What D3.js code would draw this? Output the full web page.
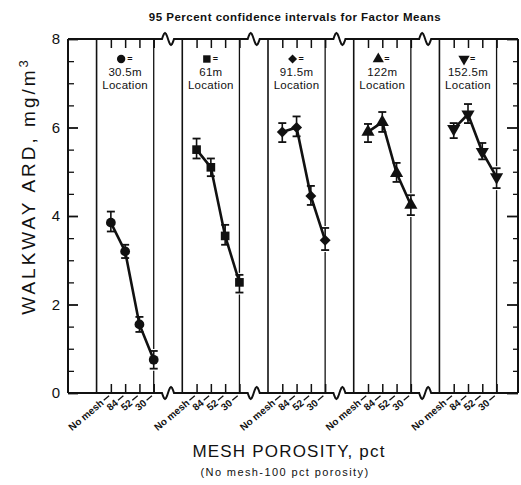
<!DOCTYPE html>
<html><head><meta charset="utf-8">
<script src="https://cdn.jsdelivr.net/npm/d3@7"></script>
<style>
html,body{margin:0;padding:0;background:#fff;}
svg{display:block;}
text{font-family:"Liberation Sans",Arial,sans-serif;fill:#111;}
</style></head>
<body>
<svg id="chart" width="521" height="485"></svg>
<script>
// ---- data ----
const categories = ["No mesh", "84", "52", "30"];
const locations = ["30.5m", "61m", "91.5m", "122m", "152.5m"];
const symbolNames = ["circle", "square", "diamond", "triangle", "triangleDown"];

const mean_30_5m = [3.85, 3.2, 1.55, 0.75];
const low_30_5m  = [3.65, 3.05, 1.38, 0.55];
const high_30_5m = [4.1, 3.35, 1.72, 0.95];

const mean_61m = [5.5, 5.1, 3.55, 2.5];
const low_61m  = [5.3, 4.9, 3.35, 2.27];
const high_61m = [5.75, 5.3, 3.8, 2.67];

const mean_91_5m = [5.9, 6.0, 4.45, 3.45];
const low_91_5m  = [5.67, 5.8, 4.25, 3.23];
const high_91_5m = [6.1, 6.25, 4.68, 3.73];

const mean_122m = [5.9, 6.12, 4.97, 4.25];
const low_122m  = [5.67, 5.9, 4.77, 4.02];
const high_122m = [6.08, 6.35, 5.2, 4.47];

const mean_152_5m = [5.97, 6.3, 5.45, 4.88];
const low_152_5m  = [5.76, 6.1, 5.28, 4.63];
const high_152_5m = [6.1, 6.53, 5.65, 5.08];

const yMajorTicks = [0, 2, 4, 6, 8];
const yMinorTicks = [0.5,1,1.5,2.5,3,3.5,4.5,5,5.5,6.5,7,7.5];

const titleText = "95 Percent confidence intervals for Factor Means";
const yTitle = "WALKWAY ARD, mg/m";
const xTitle = "MESH POROSITY, pct";
const xSubtitle = "(No mesh-100 pct porosity)";

const series = [
  {mean: mean_30_5m, low: low_30_5m, high: high_30_5m},
  {mean: mean_61m, low: low_61m, high: high_61m},
  {mean: mean_91_5m, low: low_91_5m, high: high_91_5m},
  {mean: mean_122m, low: low_122m, high: high_122m},
  {mean: mean_152_5m, low: low_152_5m, high: high_152_5m}
];

// ---- layout ----
const svg = d3.select("#chart");
const leftX = 68, rightX = 518, topY = 39, bottomY = 393;
const x = d3.scaleLinear().domain([-2, 29.5]).range([leftX, rightX]);
const y = d3.scaleLinear().domain([0, 8]).range([bottomY, topY]);
const panelStart = p => 6 * p;
const catPos = (p, i) => 6 * p + 1 + i;

const symbolMap = {
  circle: d3.symbolCircle, square: d3.symbolSquare, diamond: d3.symbolSquare,
  triangle: d3.symbolTriangle, triangleDown: d3.symbolTriangle
};
function symPath(name, size) {
  return d3.symbol().type(symbolMap[name]).size(size)();
}
function symRot(name) {
  if (name === "triangleDown") return " rotate(180)";
  if (name === "diamond") return " rotate(45)";
  return "";
}

// title
svg.append("text").attr("x", 295).attr("y", 21).attr("text-anchor", "middle")
  .style("font-size", "11.5px").style("font-weight", "bold").style("letter-spacing", "0.5px")
  .text(titleText);

// frame with break wiggles
function framePath(y0, dir) {
  const pts = [[leftX, y0]];
  for (let p = 0; p < 4; p++) {
    const xc = x(panelStart(p) + 5);
    pts.push([xc - 6, y0]);
    for (let k = 0; k <= 12; k++) {
      const t = k / 12;
      pts.push([xc - 6 + 12 * t, y0 - dir * 6 * Math.sin(2 * Math.PI * t)]);
    }
  }
  pts.push([rightX, y0]);
  return d3.line()(pts);
}
svg.append("path").attr("d", framePath(topY, 1)).attr("fill", "none").attr("stroke", "#111").attr("stroke-width", 2);
svg.append("path").attr("d", framePath(bottomY, -1)).attr("fill", "none").attr("stroke", "#111").attr("stroke-width", 2);
svg.append("line").attr("x1", leftX).attr("x2", leftX).attr("y1", topY).attr("y2", bottomY).attr("stroke", "#111").attr("stroke-width", 2);
svg.append("line").attr("x1", rightX).attr("x2", rightX).attr("y1", topY).attr("y2", bottomY).attr("stroke", "#111").attr("stroke-width", 2);

// left axis (ticks inward) with labels
const gL = svg.append("g").attr("transform", `translate(${leftX},0)`)
  .call(d3.axisLeft(y).tickValues(yMajorTicks).tickSize(-10).tickPadding(8).tickFormat(d3.format("d")));
gL.select(".domain").remove();
gL.selectAll("line").attr("stroke", "#111").attr("stroke-width", 1.8);
gL.selectAll("text").style("font-size", "15px").style("font-family", "Liberation Sans, Arial, sans-serif");
const gLm = svg.append("g").attr("transform", `translate(${leftX},0)`)
  .call(d3.axisLeft(y).tickValues(yMinorTicks).tickSize(-6).tickFormat(""));
gLm.select(".domain").remove();
gLm.selectAll("line").attr("stroke", "#111").attr("stroke-width", 1.3);

// right axis (ticks inward)
const gR = svg.append("g").attr("transform", `translate(${rightX},0)`)
  .call(d3.axisRight(y).tickValues(yMajorTicks).tickSize(-11).tickFormat(""));
gR.select(".domain").remove();
gR.selectAll("line").attr("stroke", "#111").attr("stroke-width", 1.8);
const gRm = svg.append("g").attr("transform", `translate(${rightX},0)`)
  .call(d3.axisRight(y).tickValues(yMinorTicks).tickSize(-5).tickFormat(""));
gRm.select(".domain").remove();
gRm.selectAll("line").attr("stroke", "#111").attr("stroke-width", 1.3);

// top and bottom category ticks
const tickPositions = [];
locations.forEach((loc, p) => categories.forEach((c, i) => tickPositions.push(catPos(p, i))));
const gT = svg.append("g").attr("transform", `translate(0,${topY})`)
  .call(d3.axisTop(x).tickValues(tickPositions).tickSize(-9).tickFormat(""));
gT.select(".domain").remove();
gT.selectAll("line").attr("stroke", "#111").attr("stroke-width", 1.5);
const gB = svg.append("g").attr("transform", `translate(0,${bottomY})`)
  .call(d3.axisBottom(x).tickValues(tickPositions).tickSize(-9).tickFormat(""));
gB.select(".domain").remove();
gB.selectAll("line").attr("stroke", "#111").attr("stroke-width", 1.5);

// category labels (rotated)
locations.forEach((loc, p) => {
  categories.forEach((c, i) => {
    const g = svg.append("g").attr("transform", `translate(${x(catPos(p, i)) - 1},${bottomY + 2}) rotate(-40)`);
    g.append("line").attr("x1", -8).attr("x2", -1).attr("y1", 0).attr("y2", 0).attr("stroke", "#111").attr("stroke-width", 1.3);
    g.append("text").attr("x", -10).attr("y", 0).attr("dy", "0.35em").attr("text-anchor", "end")
      .style("font-size", "10px").style("font-weight", "bold").text(c);
  });
});

// panels
series.forEach((s, p) => {
  const g = svg.append("g");
  g.append("line").attr("x1", x(panelStart(p))).attr("x2", x(panelStart(p)))
    .attr("y1", topY).attr("y2", bottomY).attr("stroke", "#111").attr("stroke-width", 1.6);
  const xl = x(catPos(p, 3));
  g.append("line").attr("x1", xl).attr("x2", xl).attr("y1", topY).attr("y2", y(s.high[3]) - 2)
    .attr("stroke", "#111").attr("stroke-width", 1.3);
  g.append("line").attr("x1", xl).attr("x2", xl).attr("y1", y(s.low[3]) + 2).attr("y2", bottomY)
    .attr("stroke", "#111").attr("stroke-width", 1.3);

  // legend
  const cx = x(panelStart(p) + 2);
  const lsz = symbolNames[p] === "diamond" ? 40 : 55;
  g.append("path").attr("d", symPath(symbolNames[p], lsz))
    .attr("transform", `translate(${cx - 4},59)${symRot(symbolNames[p])}`).attr("fill", "#111");
  g.append("text").attr("x", cx + 2).attr("y", 62).style("font-size", "9px").style("font-weight", "bold").text("=");
  g.append("text").attr("x", cx).attr("y", 75.5).attr("text-anchor", "middle")
    .style("font-size", "11.5px").style("letter-spacing", "0.3px").text(locations[p]);
  g.append("text").attr("x", cx).attr("y", 88.5).attr("text-anchor", "middle")
    .style("font-size", "11.5px").style("letter-spacing", "0.3px").text("Location");

  // error bars
  s.mean.forEach((m, i) => {
    const xi = x(catPos(p, i));
    g.append("line").attr("x1", xi).attr("x2", xi).attr("y1", y(s.low[i])).attr("y2", y(s.high[i]))
      .attr("stroke", "#111").attr("stroke-width", 1.6);
    [s.low[i], s.high[i]].forEach(v => {
      g.append("line").attr("x1", xi - 4).attr("x2", xi + 4).attr("y1", y(v)).attr("y2", y(v))
        .attr("stroke", "#111").attr("stroke-width", 1.8);
    });
  });
  g.append("path").datum(s.mean)
    .attr("d", d3.line().x((d, i) => x(catPos(p, i))).y(d => y(d)))
    .attr("fill", "none").attr("stroke", "#111").attr("stroke-width", 2.6);
  const msz = symbolNames[p] === "diamond" ? 60 : 75;
  s.mean.forEach((m, i) => {
    g.append("path").attr("d", symPath(symbolNames[p], msz))
      .attr("transform", `translate(${x(catPos(p, i))},${y(m)})${symRot(symbolNames[p])}`)
      .attr("fill", "#111");
  });
});

// y title
svg.append("text").attr("transform", "translate(35,186) rotate(-90)").attr("text-anchor", "middle")
  .style("font-size", "19px").style("letter-spacing", "3px")
  .call(t => {
    t.append("tspan").text(yTitle);
    t.append("tspan").attr("dy", "-0.55em").style("font-size", "13px").text("3");
  });

// x titles
svg.append("text").attr("x", 289).attr("y", 457).attr("text-anchor", "middle")
  .style("font-size", "17px").style("letter-spacing", "1.2px").text(xTitle);
svg.append("text").attr("x", 285).attr("y", 476).attr("text-anchor", "middle")
  .style("font-size", "11px").style("letter-spacing", "1.4px").text(xSubtitle);
</script>
</body></html>
